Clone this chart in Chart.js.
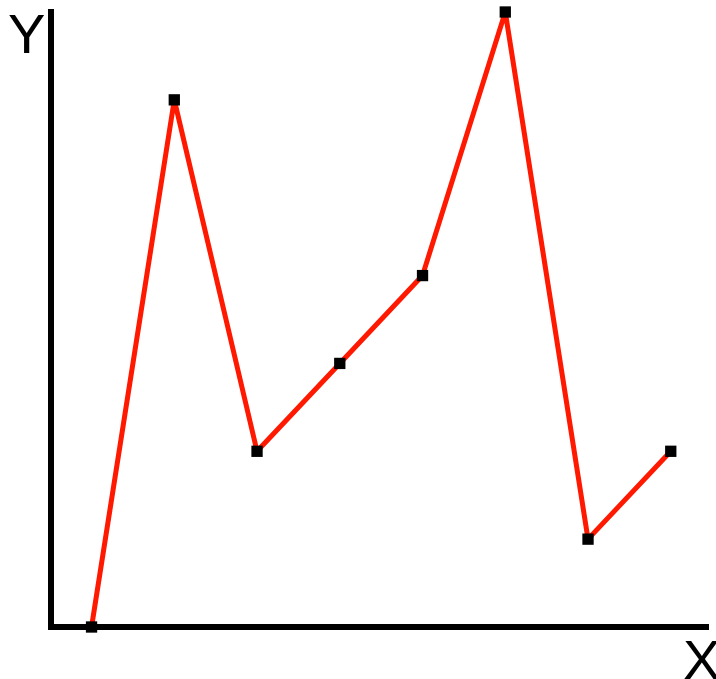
<!DOCTYPE html>
<html>
<head>
<meta charset="utf-8">
<script src="https://cdn.jsdelivr.net/npm/chart.js@4/dist/chart.umd.min.js"></script>
<style>
  html, body { margin: 0; padding: 0; background: #fff; }
  #wrap { width: 716px; height: 679px; }
</style>
</head>
<body>
<div id="wrap"><canvas id="myChart" width="716" height="679"></canvas></div>
<script>
// data
var xValues = [1, 2, 3, 4, 5, 6, 7, 8];
var yValues = [0, 6, 2, 3, 4, 7, 1, 2];
var xLabel = "X";
var yLabel = "Y";

var points = [];
for (var i = 0; i < xValues.length; i++) {
	points.push({ x: xValues[i], y: yValues[i] });
}

// draws the axis letters as text
var axisLetters = {
	id: 'axisLetters',
	afterDraw: function(chart) {
		var c = chart.ctx;
		c.save();
		c.fillStyle = '#000';
		c.font = '56px "Liberation Sans", Arial, sans-serif';
		c.textBaseline = 'alphabetic';
		c.textAlign = 'left';
		c.fillText(yLabel, 8, 53);
		c.fillText(xLabel, 683, 679);
		c.restore();
	}
};

var ctx = document.getElementById('myChart').getContext('2d');
var chart = new Chart(ctx, {
	type: 'line',
	data: {
		datasets: [{
			data: points,
			borderColor: 'rgb(255, 25, 0)',
			borderWidth: 5,
			borderJoinStyle: 'round',
			pointStyle: 'rect',
			pointRadius: 8,
			pointBackgroundColor: '#000',
			pointBorderWidth: 0,
			tension: 0,
			clip: false
		}]
	},
	options: {
		responsive: false,
		animation: false,
		layout: { padding: { top: 12, right: 0, left: 0, bottom: 0 } },
		plugins: { legend: { display: false }, tooltip: { enabled: false } },
		scales: {
			x: {
				type: 'linear',
				min: 0.51,
				max: 8.45,
				grid: { display: false },
				ticks: { display: false },
				border: { display: true, color: '#000', width: 6 },
				afterFit: function(s) { s.height = 52; }
			},
			y: {
				min: 0,
				max: 7,
				grid: { display: false },
				ticks: { display: false },
				border: { display: true, color: '#000', width: 6 },
				afterFit: function(s) { s.width = 51; }
			}
		}
	},
	plugins: [axisLetters]
});
</script>
</body>
</html>
